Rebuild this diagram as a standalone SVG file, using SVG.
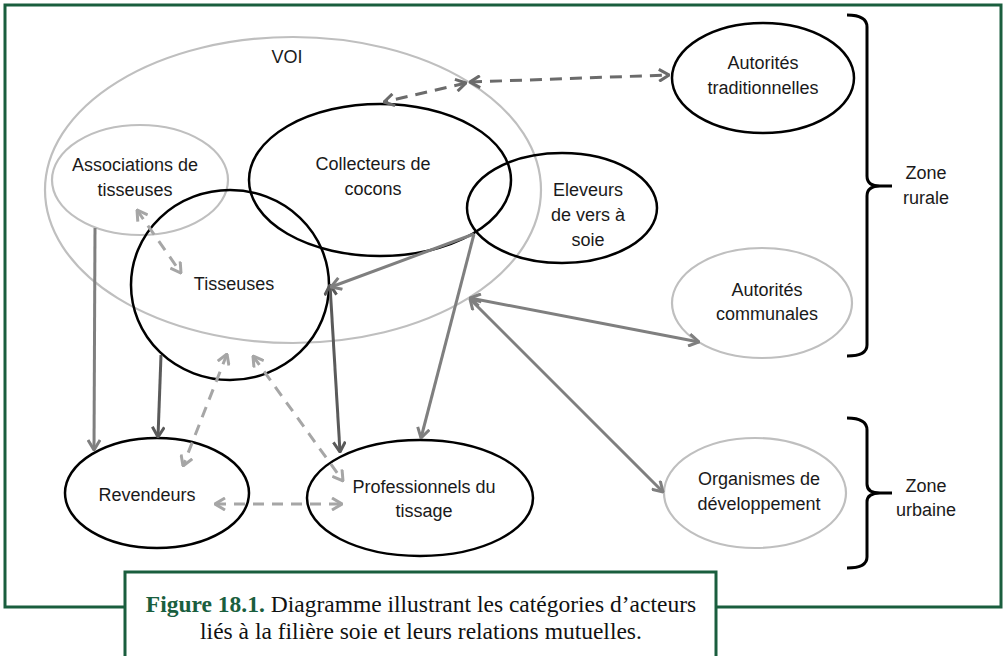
<svg xmlns="http://www.w3.org/2000/svg" width="1003" height="656" viewBox="0 0 1003 656">
<style>
.bg{fill:#ffffff}
.frame{fill:none;stroke:#1a5e3e;stroke-width:3}
.nb{fill:none;stroke:#000000;stroke-width:2.5}
.ng{fill:none;stroke:#bfbfbf;stroke-width:2.2}
.t{font-family:"Liberation Sans",Arial,sans-serif;font-size:18px;fill:#1a1a1a;text-anchor:middle}
.cap{font-family:"Liberation Serif","Times New Roman",serif;font-size:23.5px;fill:#111111;text-anchor:middle}
.capb{font-weight:bold;fill:#1a5e3e}
.brace{fill:none;stroke:#000000;stroke-width:3}
.c{fill:none;stroke-width:3}
.dk{stroke:#5a5a5a}
.md{stroke:#7f7f7f}
.dd{stroke:#6b6b6b;stroke-dasharray:12 8}
.ld{stroke:#a6a6a6;stroke-dasharray:11 8}
</style>
<defs>
<marker id="mdk" viewBox="0 0 12 14" refX="11" refY="7" markerWidth="12" markerHeight="14" markerUnits="userSpaceOnUse" orient="auto-start-reverse"><path d="M1,1 L11,7 L1,13" fill="none" stroke="#5a5a5a" stroke-width="3"/></marker>
<marker id="mmd" viewBox="0 0 12 14" refX="11" refY="7" markerWidth="12" markerHeight="14" markerUnits="userSpaceOnUse" orient="auto-start-reverse"><path d="M1,1 L11,7 L1,13" fill="none" stroke="#7f7f7f" stroke-width="3"/></marker>
<marker id="mdd" viewBox="0 0 12 14" refX="11" refY="7" markerWidth="12" markerHeight="14" markerUnits="userSpaceOnUse" orient="auto-start-reverse"><path d="M1,1 L11,7 L1,13" fill="none" stroke="#6b6b6b" stroke-width="3"/></marker>
<marker id="mld" viewBox="0 0 12 14" refX="11" refY="7" markerWidth="12" markerHeight="14" markerUnits="userSpaceOnUse" orient="auto-start-reverse"><path d="M1,1 L11,7 L1,13" fill="none" stroke="#a6a6a6" stroke-width="3"/></marker>
</defs>
<rect class="bg" x="0" y="0" width="1003" height="656"/>
<path class="frame" d="M125,607 H5 V5 H1001 V607 H716"/>

<g id="voi">
<ellipse class="ng" cx="293" cy="190" rx="248" ry="153"/>
<text class="t" x="287" y="63">VOI</text>
</g>
<g id="associations">
<ellipse class="ng" cx="140" cy="180" rx="88" ry="55"/>
<text class="t" x="135" y="171">Associations de</text>
<text class="t" x="135" y="196">tisseuses</text>
</g>
<g id="tisseuses">
<ellipse class="nb" cx="230" cy="285" rx="99" ry="95"/>
<text class="t" x="234" y="290">Tisseuses</text>
</g>
<g id="collecteurs">
<ellipse class="nb" cx="380" cy="180" rx="131" ry="76"/>
<text class="t" x="373" y="170">Collecteurs de</text>
<text class="t" x="373" y="195">cocons</text>
</g>
<g id="eleveurs">
<ellipse class="nb" cx="562" cy="208" rx="95" ry="55"/>
<text class="t" x="588" y="196">Eleveurs</text>
<text class="t" x="588" y="221">de vers à</text>
<text class="t" x="588" y="246">soie</text>
</g>
<g id="autorites-trad">
<ellipse class="nb" cx="763" cy="78" rx="91" ry="55"/>
<text class="t" x="763" y="69">Autorités</text>
<text class="t" x="763" y="94">traditionnelles</text>
</g>
<g id="autorites-comm">
<ellipse class="ng" cx="762" cy="303" rx="90" ry="55"/>
<text class="t" x="767" y="296">Autorités</text>
<text class="t" x="767" y="320">communales</text>
</g>
<g id="organismes">
<ellipse class="ng" cx="755" cy="493" rx="91" ry="55"/>
<text class="t" x="759" y="485">Organismes de</text>
<text class="t" x="759" y="510">développement</text>
</g>
<g id="revendeurs">
<ellipse class="nb" cx="157" cy="493" rx="92" ry="55"/>
<text class="t" x="147" y="501">Revendeurs</text>
</g>
<g id="professionnels">
<ellipse class="nb" cx="420" cy="498" rx="113" ry="58"/>
<text class="t" x="424" y="493">Professionnels du</text>
<text class="t" x="424" y="517">tissage</text>
</g>

<g id="brace-rurale">
<path class="brace" d="M847,15 Q867,15 867,27 V176 Q867,186 880,186 H892 M880,186 Q867,186 867,196 V345 Q867,356 847,356"/>
<text class="t" x="926" y="179">Zone</text>
<text class="t" x="926" y="204">rurale</text>
</g>
<g id="brace-urbaine">
<path class="brace" d="M847,418 Q867,418 867,430 V484 Q867,493 880,493 H892 M880,493 Q867,493 867,502 V557 Q867,568 847,568"/>
<text class="t" x="926" y="492">Zone</text>
<text class="t" x="926" y="516">urbaine</text>
</g>

<g id="connectors">
<line class="c dd" x1="466" y1="83" x2="384" y2="102" marker-start="url(#mdd)" marker-end="url(#mdd)"/>
<line class="c dd" x1="470" y1="82" x2="669" y2="75" marker-start="url(#mdd)" marker-end="url(#mdd)"/>
<line class="c ld" x1="137" y1="210" x2="181" y2="273" marker-start="url(#mld)" marker-end="url(#mld)"/>
<line class="c md" x1="95" y1="228" x2="94" y2="450" marker-end="url(#mmd)"/>
<line class="c dk" x1="161" y1="355" x2="158" y2="437" marker-end="url(#mdk)"/>
<line class="c ld" x1="227" y1="354" x2="183" y2="466" marker-start="url(#mld)" marker-end="url(#mld)"/>
<line class="c ld" x1="253" y1="356" x2="343" y2="481" marker-start="url(#mld)" marker-end="url(#mld)"/>
<line class="c dk" x1="330" y1="285" x2="340" y2="452" marker-start="url(#mdk)" marker-end="url(#mdk)"/>
<line class="c md" x1="474" y1="234" x2="331" y2="287" marker-end="url(#mmd)"/>
<line class="c md" x1="474" y1="234" x2="421" y2="438" marker-end="url(#mmd)"/>
<line class="c md" x1="470" y1="298" x2="699" y2="342" marker-start="url(#mmd)" marker-end="url(#mmd)"/>
<line class="c md" x1="470" y1="299" x2="663" y2="492" marker-start="url(#mmd)" marker-end="url(#mmd)"/>
<line class="c ld" x1="215" y1="504" x2="342" y2="504" marker-start="url(#mld)" marker-end="url(#mld)"/>
</g>

<g id="caption">
<rect x="125" y="572" width="591" height="100" fill="#ffffff" stroke="#1a5e3e" stroke-width="3"/>
<text class="cap" x="421" y="612"><tspan class="capb">Figure 18.1.</tspan> Diagramme illustrant les catégories d’acteurs</text>
<text class="cap" x="421" y="639">liés à la filière soie et leurs relations mutuelles.</text>
</g>
</svg>
